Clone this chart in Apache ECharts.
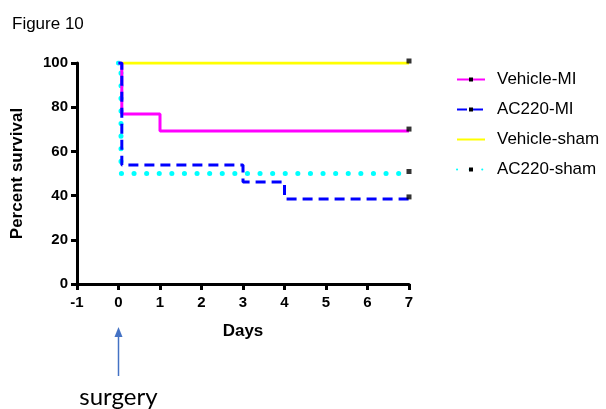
<!DOCTYPE html>
<html>
<head>
<meta charset="utf-8">
<script src="https://cdn.jsdelivr.net/npm/echarts@6/dist/echarts.min.js"></script>
<style>
  html, body { margin: 0; padding: 0; background: #fff; }
  #chart { width: 606px; height: 409px; }
</style>
</head>
<body>
<div id="chart"></div>
<script>
// Kaplan-Meier survival curves, [day, percent survival]
const vehicleMI   = [[0, 100], [0.08, 76.9], [1, 69.2], [7, 69.2]];
const ac220MI     = [[0, 100], [0.08, 53.8], [3, 46.2], [4, 38.5], [7, 38.5]];
const vehicleSham = [[0, 100], [7, 100]];
const ac220Sham   = [[0, 100], [0.06, 50], [7, 50]];

// Censored subjects at end of follow-up
const censored = [[7, 100], [7, 69.2], [7, 50], [7, 38.5]];

const seriesNames = ['Vehicle-MI', 'AC220-MI', 'Vehicle-sham', 'AC220-sham'];
const xTicks = { min: -1, max: 7, step: 1 };
const yTicks = { min: 0, max: 100, step: 20 };

const chart = echarts.init(document.getElementById('chart'), null, { renderer: 'canvas' });

const sans = 'Liberation Sans, Arial, sans-serif';
const boldFont = { fontFamily: sans, fontWeight: 'bold', color: '#000' };

function kmSeries(name, data, color, type, width, cap, z, withMark) {
  return {
    name: name,
    type: 'line',
    step: 'end',
    data: data,
    z: z,
    showSymbol: false,
    symbol: withMark ? 'rect' : 'none',
    symbolSize: 5,
    itemStyle: { color: '#000' },
    lineStyle: { color: color, width: width, type: type, cap: cap },
    emphasis: { disabled: true },
    animation: false
  };
}

const option = {
  backgroundColor: '#fff',
  animation: false,
  title: {
    text: 'Figure 10',
    left: 7, top: 11,
    textStyle: { fontFamily: sans, fontWeight: 'normal', fontSize: 17, color: '#000' }
  },
  grid: { left: 77, right: 197, top: 63, bottom: 125, containLabel: false },
  xAxis: {
    type: 'value',
    min: xTicks.min, max: xTicks.max, interval: xTicks.step,
    name: 'Days', nameLocation: 'middle', nameGap: 39,
    nameTextStyle: Object.assign({ fontSize: 17 }, boldFont),
    axisLine: { onZero: false, lineStyle: { color: '#000', width: 3 } },
    axisTick: { show: true, length: 6, lineStyle: { color: '#000', width: 3 } },
    axisLabel: Object.assign({ fontSize: 15, margin: 11 }, boldFont),
    splitLine: { show: false }
  },
  yAxis: {
    type: 'value',
    min: yTicks.min, max: yTicks.max, interval: yTicks.step,
    name: 'Percent survival', nameLocation: 'middle', nameGap: 51,
    nameTextStyle: Object.assign({ fontSize: 17 }, boldFont),
    axisLine: { show: true, onZero: false, lineStyle: { color: '#000', width: 3 } },
    axisTick: { show: true, length: 6, lineStyle: { color: '#000', width: 3 } },
    axisLabel: Object.assign({ fontSize: 15, margin: 9 }, boldFont),
    splitLine: { show: false }
  },
  legend: {
    orient: 'vertical',
    left: 451, top: 66,
    itemWidth: 28, itemHeight: 5,
    itemGap: 13,
    data: seriesNames.map(function (n) {
      return n === 'Vehicle-sham' ? { name: n, itemStyle: { opacity: 0 } } : { name: n };
    }),
    textStyle: { fontFamily: sans, fontSize: 17, color: '#000', padding: [0, 0, 0, 7] }
  },
  series: [
    kmSeries(seriesNames[2], vehicleSham, '#ffff00', 'solid', 3, 'butt', 1, false),
    kmSeries(seriesNames[0], vehicleMI, '#ff00ff', 'solid', 3, 'butt', 3, true),
    kmSeries(seriesNames[1], ac220MI, '#0000ff', [10, 6], 3, 'butt', 4, true),
    kmSeries(seriesNames[3], ac220Sham, '#00ffff', [0.1, 12.5], 5, 'round', 2, true),
    {
      type: 'scatter',
      data: censored,
      symbol: 'rect',
      symbolSize: 5,
      symbolOffset: [0, -2],
      itemStyle: { color: '#000' },
      z: 10,
      silent: true,
      animation: false
    }
  ]
};

chart.setOption(option);

// Arrow marking the day of surgery, below the x axis
const x0 = chart.convertToPixel({ xAxisIndex: 0 }, 0);
chart.setOption({
  graphic: [
    {
      type: 'line',
      shape: { x1: x0, y1: 376, x2: x0, y2: 334 },
      style: { stroke: '#4472c4', lineWidth: 1.5 }
    },
    {
      type: 'polygon',
      shape: { points: [[x0, 327], [x0 - 4, 337], [x0 + 4, 337]] },
      style: { fill: '#4472c4' }
    },
    {
      type: 'text',
      x: x0, y: 397,
      style: {
        text: 'surgery',
        font: '24px Lato, "Open Sans", sans-serif',
        fill: '#000',
        textAlign: 'center',
        textVerticalAlign: 'middle'
      }
    }
  ]
});
</script>
</body>
</html>
